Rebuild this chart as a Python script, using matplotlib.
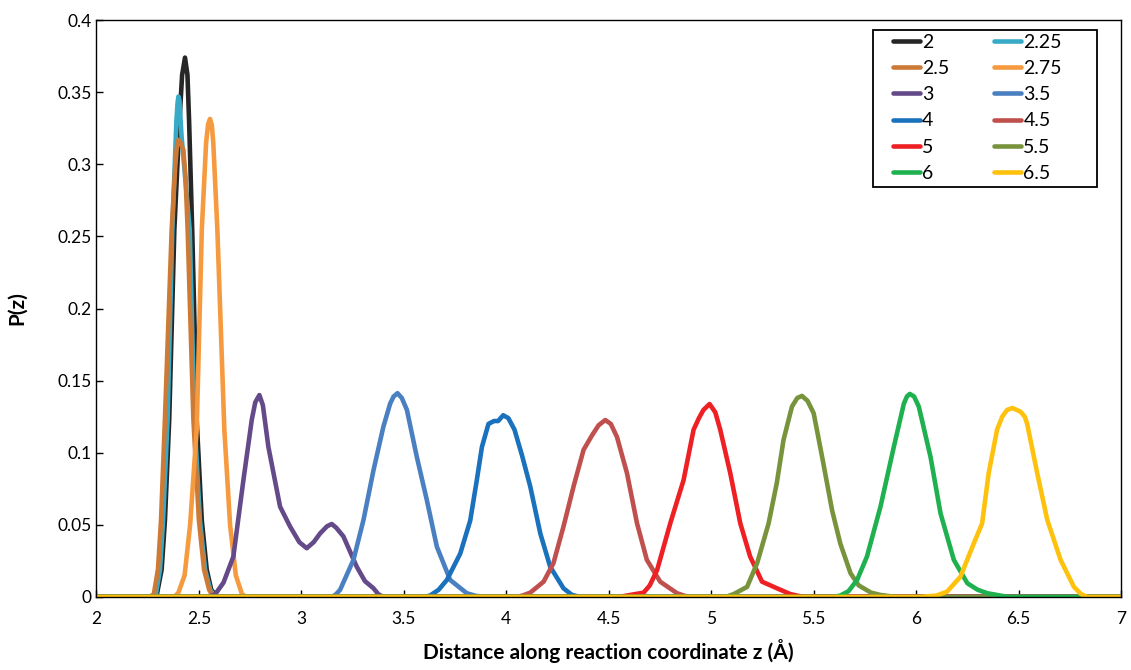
import matplotlib
matplotlib.use("Agg")
import matplotlib.pyplot as plt
from matplotlib.patches import Rectangle

plt.rcParams['font.family'] = ['Lato', 'DejaVu Sans']

labels = ["2", "2.25", "2.5", "2.75", "3", "3.5", "4", "4.5", "5", "5.5", "6", "6.5"]
colors = ["#262626", "#37aac8", "#cc7a36", "#f59a3e", "#654a8a", "#4a80c2",
          "#1a71bc", "#c0504d", "#ee2024", "#77933c", "#1fb14f", "#fec20e"]

x_2 = [2.0, 2.28, 2.295, 2.318, 2.334, 2.355, 2.38, 2.405, 2.418, 2.432, 2.444, 2.452, 2.468, 2.48, 2.489, 2.514, 2.538, 2.56, 2.59, 7.0]
y_2 = [0, 0, 0.002, 0.019, 0.053, 0.123, 0.2545, 0.33, 0.362, 0.374, 0.362, 0.33, 0.25, 0.18, 0.123, 0.053, 0.019, 0.005, 0, 0]

x_225 = [2.0, 2.27, 2.29, 2.31, 2.325, 2.347, 2.37, 2.39, 2.396, 2.40, 2.405, 2.415, 2.455, 2.478, 2.505, 2.53, 2.555, 2.58, 7.0]
y_225 = [0, 0, 0.002, 0.019, 0.053, 0.123, 0.2545, 0.33, 0.343, 0.347, 0.344, 0.32, 0.2545, 0.123, 0.053, 0.019, 0.005, 0, 0]

x_25 = [2.0, 2.26, 2.28, 2.30, 2.315, 2.334, 2.367, 2.385, 2.393, 2.40, 2.41, 2.424, 2.435, 2.445, 2.473, 2.50, 2.525, 2.55, 2.57, 7.0]
y_25 = [0, 0, 0.002, 0.019, 0.053, 0.123, 0.2545, 0.30, 0.313, 0.317, 0.315, 0.31, 0.29, 0.2545, 0.123, 0.053, 0.019, 0.005, 0, 0]

x_275 = [2.0, 2.38, 2.40, 2.43, 2.457, 2.489, 2.514, 2.535, 2.545, 2.554, 2.563, 2.57, 2.59, 2.624, 2.652, 2.68, 2.71, 2.73, 7.0]
y_275 = [0, 0, 0.003, 0.015, 0.05, 0.116, 0.2545, 0.315, 0.328, 0.3315, 0.327, 0.315, 0.2545, 0.116, 0.05, 0.015, 0.002, 0, 0]

x_3 = [2.0, 2.546, 2.58, 2.62, 2.668, 2.717, 2.758, 2.775, 2.795, 2.812, 2.839, 2.896, 2.945, 2.99, 3.026, 3.06, 3.091, 3.125, 3.148, 3.17, 3.205, 3.27, 3.31, 3.352, 3.375, 3.40, 7.0]
y_3 = [0, 0, 0.002, 0.01, 0.028, 0.081, 0.123, 0.135, 0.140, 0.133, 0.104, 0.0626, 0.0488, 0.038, 0.0338, 0.038, 0.044, 0.049, 0.0506, 0.048, 0.042, 0.021, 0.011, 0.006, 0.002, 0, 0]

x_35 = [2.0, 3.15, 3.17, 3.189, 3.254, 3.303, 3.352, 3.40, 3.433, 3.45, 3.469, 3.49, 3.515, 3.563, 3.612, 3.661, 3.726, 3.807, 3.85, 3.90, 7.0]
y_35 = [0, 0, 0.002, 0.005, 0.0257, 0.0534, 0.088, 0.118, 0.134, 0.139, 0.1413, 0.138, 0.1297, 0.0973, 0.0673, 0.0349, 0.0118, 0.0026, 0.0008, 0, 0]

x_4 = [2.0, 3.60, 3.628, 3.67, 3.71, 3.775, 3.824, 3.856, 3.881, 3.913, 3.94, 3.96, 3.985, 4.01, 4.04, 4.077, 4.117, 4.166, 4.214, 4.279, 4.32, 4.36, 7.0]
y_4 = [0, 0, 0.001, 0.005, 0.0118, 0.030, 0.053, 0.081, 0.104, 0.120, 0.122, 0.122, 0.126, 0.124, 0.116, 0.098, 0.0765, 0.044, 0.021, 0.006, 0.0015, 0, 0]

x_45 = [2.0, 4.05, 4.08, 4.117, 4.182, 4.23, 4.279, 4.328, 4.377, 4.418, 4.45, 4.483, 4.51, 4.54, 4.589, 4.638, 4.686, 4.751, 4.833, 4.87, 4.90, 7.0]
y_45 = [0, 0, 0.001, 0.003, 0.0106, 0.0234, 0.0488, 0.0765, 0.102, 0.112, 0.119, 0.1227, 0.12, 0.111, 0.0858, 0.051, 0.0257, 0.0106, 0.0026, 0.0008, 0, 0]

x_5 = [2.0, 4.55, 4.589, 4.67, 4.70, 4.736, 4.80, 4.865, 4.914, 4.94, 4.962, 4.992, 5.02, 5.044, 5.093, 5.142, 5.19, 5.248, 5.321, 5.386, 5.45, 7.0]
y_5 = [0, 0, 0.001, 0.003, 0.008, 0.0187, 0.051, 0.081, 0.116, 0.124, 0.1297, 0.1338, 0.128, 0.116, 0.0858, 0.051, 0.028, 0.0106, 0.006, 0.002, 0, 0]

x_55 = [2.0, 5.07, 5.11, 5.175, 5.224, 5.28, 5.32, 5.353, 5.394, 5.42, 5.443, 5.47, 5.50, 5.541, 5.59, 5.63, 5.68, 5.72, 5.744, 5.78, 5.826, 5.90, 7.0]
y_55 = [0, 0, 0.002, 0.007, 0.0234, 0.051, 0.079, 0.109, 0.132, 0.138, 0.1394, 0.136, 0.1274, 0.0973, 0.060, 0.037, 0.0164, 0.008, 0.006, 0.003, 0.0014, 0, 0]

x_6 = [2.0, 5.60, 5.63, 5.67, 5.712, 5.76, 5.826, 5.891, 5.94, 5.955, 5.969, 5.99, 6.013, 6.07, 6.119, 6.184, 6.25, 6.30, 6.347, 6.45, 7.0]
y_6 = [0, 0, 0.001, 0.004, 0.0118, 0.028, 0.0626, 0.104, 0.134, 0.139, 0.1408, 0.139, 0.132, 0.0973, 0.058, 0.0257, 0.0095, 0.005, 0.0026, 0, 0]

x_65 = [2.0, 6.02, 6.10, 6.151, 6.216, 6.281, 6.322, 6.354, 6.395, 6.42, 6.444, 6.47, 6.509, 6.53, 6.542, 6.591, 6.64, 6.705, 6.77, 6.805, 6.835, 7.0]
y_65 = [0, 0, 0.001, 0.0037, 0.014, 0.037, 0.051, 0.0858, 0.116, 0.125, 0.1297, 0.131, 0.1285, 0.125, 0.120, 0.0858, 0.0534, 0.0257, 0.007, 0.002, 0, 0]

xs = [x_2, x_225, x_25, x_275, x_3, x_35, x_4, x_45, x_5, x_55, x_6, x_65]
ys = [y_2, y_225, y_25, y_275, y_3, y_35, y_4, y_45, y_5, y_55, y_6, y_65]

xticks = [2, 2.5, 3, 3.5, 4, 4.5, 5, 5.5, 6, 6.5, 7]
xticklabels = ["2", "2.5", "3", "3.5", "4", "4.5", "5", "5.5", "6", "6.5", "7"]
yticks = [0, 0.05, 0.1, 0.15, 0.2, 0.25, 0.3, 0.35, 0.4]
yticklabels = ["0", "0.05", "0.1", "0.15", "0.2", "0.25", "0.3", "0.35", "0.4"]

fig = plt.figure(figsize=(11.31, 6.70), dpi=100)
ax = fig.add_axes([0.0853, 0.109, 0.9059, 0.861])

handles = {}
for lab, c, x, y in zip(labels, colors, xs, ys):
    h, = ax.plot(x, y, color=c, lw=3.3, solid_joinstyle='round', solid_capstyle='round', label=lab)
    handles[lab] = h

ax.set_xlim(2, 7)
ax.set_ylim(0, 0.4)
ax.set_xticks(xticks)
ax.set_xticklabels(xticklabels)
ax.set_yticks(yticks)
ax.set_yticklabels(yticklabels)
ax.tick_params(direction='in', length=5, width=1, labelsize=12.5, colors='black')
ax.tick_params(axis='x', pad=10)
for s in ax.spines.values():
    s.set_color('black')
    s.set_linewidth(1)

ax.set_xlabel("Distance along reaction coordinate z (Å)", fontsize=15, fontweight='bold', labelpad=9)
ax.set_ylabel("P(z)", fontsize=15, fontweight='bold', labelpad=22)

# legend frame
ax.add_patch(Rectangle((0.758, 0.7106), 0.2186, 0.2721, transform=ax.transAxes,
                       facecolor='white', edgecolor='black', lw=1.3, zorder=4))

order = ["2", "2.5", "3", "4", "5", "6", "2.25", "2.75", "3.5", "4.5", "5.5", "6.5"]
leg = ax.legend([handles[k] for k in order], order, ncol=2, loc='upper left',
                bbox_to_anchor=(0.7775, 0.976), fontsize=14, frameon=False,
                handlelength=1.4, handletextpad=0.1, columnspacing=2.3,
                labelspacing=0.47, borderpad=0, borderaxespad=0)
leg.set_zorder(5)

fig.savefig("out.png", dpi=100)
